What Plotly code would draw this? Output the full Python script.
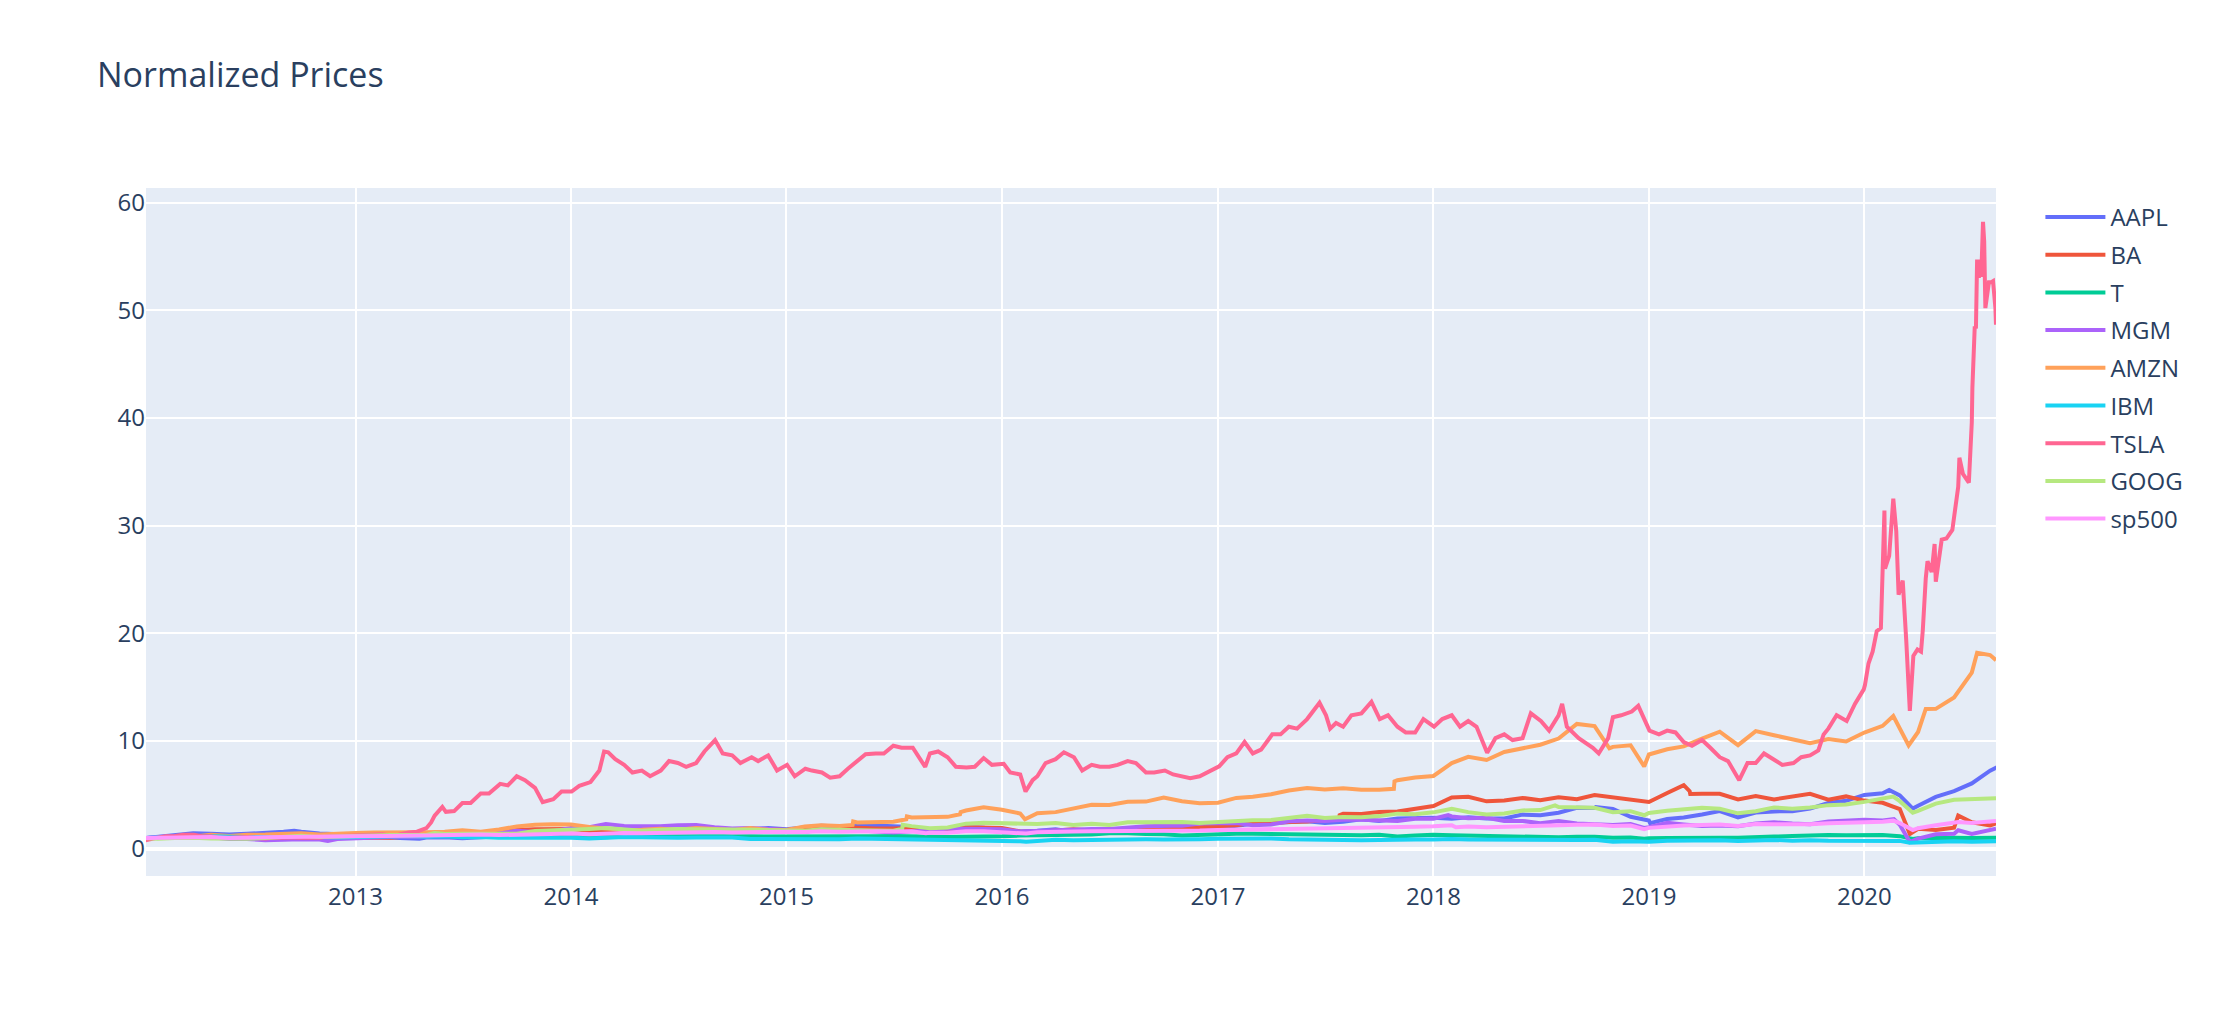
import pandas as pd
import plotly.graph_objects as go

# ---------------- data (normalized prices) ----------------
MONTHS = (["2012-01-12"]
          + [d.strftime("%Y-%m-%d") for d in pd.date_range("2012-02-01", "2020-08-01", freq="MS")]
          + ["2020-08-11"])

AAPL_M = [1.00, 1.09, 1.30, 1.43, 1.39, 1.33, 1.39, 1.44, 1.58, 1.57, 1.42, 1.39,
          1.31, 1.08, 1.02, 1.02, 1.05, 1.07, 0.97, 1.09, 1.16, 1.16, 1.24, 1.32,
          1.32, 1.19, 1.25, 1.29, 1.41, 1.53, 1.56, 1.60, 1.71, 1.65, 1.80, 1.92,
          1.82, 1.97, 2.13, 2.07, 2.13, 2.17, 2.10, 2.02, 1.78, 1.82, 2.00, 1.95,
          1.75, 1.60, 1.67, 1.82, 1.55, 1.63, 1.58, 1.77, 1.78, 1.88, 1.85, 1.82,
          1.93, 2.13, 2.32, 2.40, 2.45, 2.55, 2.40, 2.50, 2.73, 2.57, 2.80, 2.85,
          2.87, 2.78, 2.92, 2.80, 2.82, 3.17, 3.12, 3.35, 3.80, 3.79, 3.70, 2.97,
          2.62, 2.77, 2.90, 3.18, 3.50, 2.92, 3.37, 3.47, 3.48, 3.73, 4.25, 4.45,
          5.00, 5.15, 4.95, 4.00, 4.82, 5.35, 6.07, 7.25,
          7.35]
AAPL_X = [("2012-09-19", 1.67), ("2013-04-19", 0.93), ("2018-10-03", 3.88),
          ("2019-01-03", 2.37), ("2020-02-12", 5.45), ("2020-03-23", 3.73),
          ("2020-08-10", 7.50)]

BA_M = [1.00, 0.99, 1.01, 0.99, 1.03, 0.93, 0.99, 0.99, 0.95, 0.94, 0.94, 0.99,
        1.01, 0.99, 1.03, 1.15, 1.22, 1.33, 1.41, 1.40, 1.57, 1.74, 1.80, 1.83,
        1.84, 1.68, 1.73, 1.69, 1.73, 1.81, 1.70, 1.61, 1.70, 1.70, 1.68, 1.80,
        1.74, 1.95, 2.12, 2.01, 1.92, 1.88, 1.87, 1.93, 1.76, 1.76, 1.99, 1.95,
        1.93, 1.61, 1.58, 1.70, 1.81, 1.69, 1.74, 1.80, 1.73, 1.76, 1.91, 2.03,
        2.08, 2.19, 2.42, 2.38, 2.48, 2.52, 2.66, 3.25, 3.22, 3.41, 3.46, 3.72,
        3.96, 4.77, 4.83, 4.40, 4.48, 4.72, 4.50, 4.78, 4.60, 4.99, 4.77, 4.64,
        4.34, 5.18, 5.91, 5.11, 5.10, 4.58, 4.89, 4.58, 4.89, 5.10, 4.56, 4.86,
        4.47, 4.27, 3.69, 1.85, 1.75, 1.95, 2.46, 2.17,
        2.35]
BA_X = [("2017-07-25", 2.82), ("2017-07-26", 3.12), ("2019-03-11", 5.35),
        ("2019-03-12", 5.09), ("2020-03-18", 1.36), ("2020-06-08", 3.09)]

T_M = [1.00, 1.00, 1.02, 1.04, 1.10, 1.14, 1.19, 1.23, 1.22, 1.26, 1.15, 1.13,
       1.15, 1.17, 1.20, 1.23, 1.30, 1.18, 1.19, 1.18, 1.13, 1.13, 1.20, 1.17,
       1.17, 1.10, 1.07, 1.17, 1.18, 1.18, 1.18, 1.18, 1.17, 1.17, 1.17, 1.13,
       1.12, 1.12, 1.15, 1.08, 1.15, 1.15, 1.18, 1.15, 1.08, 1.09, 1.12, 1.12,
       1.15, 1.22, 1.23, 1.30, 1.30, 1.32, 1.43, 1.45, 1.37, 1.35, 1.23, 1.30,
       1.42, 1.40, 1.40, 1.38, 1.30, 1.28, 1.26, 1.30, 1.25, 1.30, 1.13, 1.22,
       1.30, 1.25, 1.22, 1.18, 1.08, 1.08, 1.07, 1.07, 1.12, 1.12, 1.02, 1.05,
       0.97, 1.00, 1.03, 1.05, 1.03, 1.03, 1.12, 1.13, 1.18, 1.27, 1.28, 1.25,
       1.30, 1.27, 1.17, 0.97, 1.02, 1.03, 1.00, 0.98,
       1.02]
T_X = [("2018-12-24", 0.93), ("2020-03-23", 0.90)]

MGM_M = [1.00, 1.10, 1.13, 1.11, 1.07, 0.90, 0.91, 0.79, 0.85, 0.88, 0.86, 0.90,
         0.98, 1.11, 1.10, 1.08, 1.10, 1.31, 1.21, 1.35, 1.47, 1.68, 1.56, 1.63,
         1.93, 2.00, 2.29, 2.12, 2.09, 2.09, 2.18, 2.21, 2.00, 1.87, 1.93, 1.83,
         1.75, 1.55, 1.80, 1.72, 1.72, 1.60, 1.50, 1.62, 1.68, 1.88, 1.88, 1.84,
         1.81, 1.60, 1.68, 1.75, 1.76, 1.84, 1.84, 1.98, 2.09, 2.13, 2.13, 2.34,
         2.38, 2.38, 2.19, 2.25, 2.56, 2.62, 2.57, 2.70, 2.70, 2.66, 2.57, 2.78,
         2.78, 3.00, 2.83, 2.87, 2.58, 2.58, 2.38, 2.58, 2.34, 2.25, 2.21, 2.29,
         2.00, 2.41, 2.25, 2.11, 2.17, 2.09, 2.35, 2.46, 2.34, 2.27, 2.54, 2.58,
         2.70, 2.62, 2.22, 0.94, 1.35, 1.40, 1.38, 1.76,
         1.85]
MGM_X = [("2012-11-15", 0.72), ("2013-12-31", 1.93), ("2018-01-26", 3.12),
         ("2018-12-24", 1.93), ("2020-02-20", 2.75), ("2020-03-18", 0.62),
         ("2020-06-08", 1.72)]

AMZN_M = [1.00, 1.02, 1.02, 1.15, 1.31, 1.18, 1.30, 1.32, 1.41, 1.44, 1.32, 1.43,
          1.46, 1.51, 1.50, 1.51, 1.53, 1.57, 1.71, 1.59, 1.78, 2.07, 2.23, 2.27,
          2.26, 2.03, 1.91, 1.73, 1.77, 1.85, 1.77, 1.93, 1.83, 1.73, 1.92, 1.76,
          1.75, 2.07, 2.19, 2.11, 2.44, 2.47, 2.50, 2.91, 2.90, 2.96, 3.55, 3.84,
          3.62, 3.27, 3.30, 3.40, 3.75, 4.09, 4.06, 4.36, 4.38, 4.76, 4.41, 4.23,
          4.28, 4.72, 4.83, 5.06, 5.40, 5.63, 5.50, 5.61, 5.48, 5.47, 6.37, 6.62,
          6.76, 7.95, 8.53, 8.24, 8.98, 9.32, 9.66, 10.23, 11.59, 11.39, 9.46, 9.61,
          8.75, 9.24, 9.50, 10.23, 10.87, 9.62, 10.92, 10.54, 10.17, 9.80, 10.18, 9.96,
          10.79, 11.41, 11.10, 10.84, 12.99, 14.05, 16.36, 17.98,
          17.51]
AMZN_X = [("2015-04-23", 2.21), ("2015-04-24", 2.53), ("2015-07-23", 2.74),
          ("2015-07-24", 3.01), ("2015-10-22", 3.20), ("2015-10-23", 3.41),
          ("2016-02-09", 2.74), ("2017-10-26", 5.56), ("2017-10-27", 6.25),
          ("2018-10-26", 9.32), ("2018-12-24", 7.64), ("2020-02-19", 12.33),
          ("2020-03-16", 9.60), ("2020-04-14", 12.98), ("2020-07-10", 18.19)]

IBM_M = [1.00, 1.06, 1.10, 1.15, 1.15, 1.07, 1.08, 1.08, 1.08, 1.16, 1.08, 1.05,
         1.09, 1.14, 1.11, 1.18, 1.11, 1.15, 1.07, 1.09, 1.01, 1.02, 1.00, 0.99,
         1.02, 0.95, 1.02, 1.08, 1.07, 1.02, 1.01, 1.05, 1.06, 1.05, 0.91, 0.90,
         0.90, 0.86, 0.89, 0.89, 0.96, 0.94, 0.92, 0.88, 0.81, 0.80, 0.78, 0.76,
         0.75, 0.69, 0.74, 0.84, 0.80, 0.84, 0.84, 0.89, 0.88, 0.87, 0.85, 0.89,
         0.93, 0.97, 1.00, 0.96, 0.88, 0.84, 0.86, 0.80, 0.79, 0.81, 0.86, 0.85,
         0.85, 0.91, 0.85, 0.83, 0.80, 0.78, 0.78, 0.80, 0.81, 0.84, 0.65, 0.69,
         0.64, 0.75, 0.77, 0.79, 0.78, 0.73, 0.77, 0.82, 0.74, 0.80, 0.75, 0.74,
         0.75, 0.80, 0.73, 0.58, 0.69, 0.69, 0.66, 0.69,
         0.70]
IBM_X = [("2016-02-11", 0.65), ("2018-12-24", 0.59), ("2020-03-18", 0.55)]

GOOG_M = [1.00, 0.92, 0.99, 1.03, 0.96, 0.91, 0.92, 1.00, 1.08, 1.21, 1.08, 1.10,
          1.15, 1.23, 1.28, 1.27, 1.27, 1.38, 1.40, 1.41, 1.38, 1.40, 1.64, 1.68,
          1.76, 1.84, 1.92, 1.79, 1.68, 1.76, 1.84, 1.81, 1.83, 1.79, 1.76, 1.70,
          1.67, 1.67, 1.81, 1.72, 1.72, 1.70, 1.67, 2.10, 1.91, 1.97, 2.33, 2.41,
          2.35, 2.38, 2.29, 2.38, 2.21, 2.33, 2.21, 2.45, 2.45, 2.46, 2.48, 2.38,
          2.49, 2.53, 2.65, 2.66, 2.90, 3.07, 2.86, 2.95, 2.92, 3.03, 3.26, 3.21,
          3.38, 3.70, 3.40, 3.18, 3.27, 3.56, 3.59, 3.88, 3.81, 3.80, 3.40, 3.49,
          3.32, 3.53, 3.65, 3.80, 3.72, 3.29, 3.49, 3.84, 3.72, 3.83, 4.05, 4.10,
          4.35, 4.72, 4.42, 3.51, 4.19, 4.54, 4.57, 4.69,
          4.70]
GOOG_X = [("2013-05-15", 1.45), ("2015-07-16", 1.85), ("2015-07-17", 2.22),
          ("2018-07-26", 4.03), ("2018-12-24", 3.11), ("2020-02-19", 4.85),
          ("2020-03-23", 3.35)]

SP500_M = [1.00, 1.02, 1.06, 1.10, 1.08, 0.99, 1.05, 1.06, 1.08, 1.11, 1.10, 1.09,
           1.13, 1.17, 1.17, 1.21, 1.22, 1.27, 1.25, 1.32, 1.27, 1.31, 1.36, 1.39,
           1.41, 1.34, 1.42, 1.46, 1.45, 1.49, 1.52, 1.49, 1.55, 1.50, 1.56, 1.59,
           1.59, 1.56, 1.63, 1.59, 1.63, 1.63, 1.60, 1.62, 1.48, 1.48, 1.62, 1.62,
           1.55, 1.50, 1.53, 1.60, 1.61, 1.62, 1.62, 1.68, 1.68, 1.67, 1.63, 1.69,
           1.74, 1.76, 1.85, 1.82, 1.84, 1.88, 1.87, 1.91, 1.91, 1.95, 1.99, 2.04,
           2.08, 2.18, 2.07, 1.99, 2.05, 2.11, 2.10, 2.17, 2.24, 2.26, 2.12, 2.15,
           1.94, 2.09, 2.16, 2.21, 2.26, 2.12, 2.29, 2.28, 2.24, 2.27, 2.37, 2.40,
           2.51, 2.51, 2.39, 1.91, 2.19, 2.36, 2.40, 2.54,
           2.57]
SP500_X = [("2015-08-25", 1.44), ("2016-02-11", 1.41), ("2018-01-26", 2.22),
           ("2018-02-08", 1.99), ("2018-12-24", 1.81), ("2020-02-19", 2.61),
           ("2020-03-23", 1.73), ("2020-06-08", 2.49)]

TSLA_POINTS = [
    ("2012-01-12", 1.00), ("2012-01-13", 0.81), ("2012-02-01", 1.03), ("2012-02-15", 1.17),
    ("2012-03-01", 1.19), ("2012-03-15", 1.31), ("2012-04-02", 1.31), ("2012-04-16", 1.17),
    ("2012-05-01", 1.17), ("2012-05-15", 0.99), ("2012-06-01", 1.03), ("2012-06-15", 1.06),
    ("2012-07-02", 1.10), ("2012-07-16", 0.99), ("2012-08-01", 0.96), ("2012-08-15", 1.03),
    ("2012-09-04", 0.99), ("2012-09-17", 1.04), ("2012-10-01", 1.03), ("2012-10-15", 0.99),
    ("2012-11-01", 1.03), ("2012-11-15", 1.13), ("2012-12-03", 1.20), ("2012-12-17", 1.20),
    ("2013-01-02", 1.24), ("2013-01-15", 1.27), ("2013-02-01", 1.35), ("2013-02-15", 1.35),
    ("2013-03-01", 1.24), ("2013-03-15", 1.31), ("2013-04-01", 1.52), ("2013-04-15", 1.59),
    ("2013-05-01", 1.91), ("2013-05-09", 2.44), ("2013-05-15", 3.08), ("2013-05-28", 3.89),
    ("2013-06-03", 3.43), ("2013-06-17", 3.50), ("2013-07-01", 4.25), ("2013-07-15", 4.25),
    ("2013-08-01", 5.13), ("2013-08-15", 5.13), ("2013-09-03", 6.02), ("2013-09-16", 5.88),
    ("2013-10-01", 6.73), ("2013-10-15", 6.37), ("2013-11-01", 5.66), ("2013-11-14", 4.32),
    ("2013-12-02", 4.60), ("2013-12-16", 5.31), ("2014-01-02", 5.31), ("2014-01-15", 5.84),
    ("2014-02-03", 6.19), ("2014-02-18", 7.26), ("2014-02-26", 9.03), ("2014-03-05", 8.96),
    ("2014-03-17", 8.32), ("2014-04-01", 7.79), ("2014-04-15", 7.08), ("2014-05-01", 7.26),
    ("2014-05-15", 6.73), ("2014-06-02", 7.26), ("2014-06-16", 8.14), ("2014-07-01", 7.96),
    ("2014-07-15", 7.61), ("2014-08-01", 7.96), ("2014-08-15", 9.03), ("2014-09-02", 10.09),
    ("2014-09-15", 8.85), ("2014-10-01", 8.67), ("2014-10-15", 7.96), ("2014-11-03", 8.50),
    ("2014-11-14", 8.14), ("2014-12-01", 8.67), ("2014-12-16", 7.26), ("2015-01-02", 7.79),
    ("2015-01-15", 6.73), ("2015-02-02", 7.43), ("2015-02-13", 7.26), ("2015-03-02", 7.08),
    ("2015-03-16", 6.60), ("2015-04-01", 6.73), ("2015-04-15", 7.43), ("2015-05-01", 8.14),
    ("2015-05-15", 8.78), ("2015-06-01", 8.85), ("2015-06-15", 8.85), ("2015-07-01", 9.56),
    ("2015-07-15", 9.38), ("2015-08-03", 9.38), ("2015-08-14", 8.50), ("2015-08-24", 7.60),
    ("2015-09-01", 8.85), ("2015-09-15", 9.03), ("2015-10-01", 8.50), ("2015-10-15", 7.61),
    ("2015-11-02", 7.54), ("2015-11-16", 7.61), ("2015-12-01", 8.42), ("2015-12-15", 7.79),
    ("2016-01-04", 7.89), ("2016-01-15", 7.08), ("2016-02-01", 6.90), ("2016-02-10", 5.31),
    ("2016-02-22", 6.37), ("2016-03-01", 6.73), ("2016-03-15", 7.96), ("2016-04-01", 8.32),
    ("2016-04-15", 8.96), ("2016-05-02", 8.50), ("2016-05-16", 7.26), ("2016-06-01", 7.79),
    ("2016-06-15", 7.61), ("2016-07-01", 7.61), ("2016-07-15", 7.79), ("2016-08-01", 8.14),
    ("2016-08-15", 7.96), ("2016-09-01", 7.08), ("2016-09-15", 7.08), ("2016-10-03", 7.26),
    ("2016-10-17", 6.90), ("2016-11-01", 6.73), ("2016-11-15", 6.55), ("2016-12-01", 6.73),
    ("2016-12-15", 7.08), ("2017-01-03", 7.65), ("2017-01-17", 8.50), ("2017-02-01", 8.85),
    ("2017-02-15", 9.91), ("2017-03-01", 8.85), ("2017-03-15", 9.20), ("2017-04-03", 10.62),
    ("2017-04-17", 10.62), ("2017-05-01", 11.33), ("2017-05-15", 11.15), ("2017-06-01", 12.04),
    ("2017-06-22", 13.56), ("2017-07-03", 12.39), ("2017-07-10", 11.15), ("2017-07-20", 11.68),
    ("2017-08-01", 11.33), ("2017-08-15", 12.39), ("2017-09-01", 12.57), ("2017-09-18", 13.63),
    ("2017-10-02", 12.04), ("2017-10-16", 12.39), ("2017-11-01", 11.33), ("2017-11-15", 10.80),
    ("2017-12-01", 10.80), ("2017-12-15", 12.04), ("2018-01-02", 11.33), ("2018-01-16", 12.04),
    ("2018-02-01", 12.39), ("2018-02-15", 11.33), ("2018-03-01", 11.86), ("2018-03-15", 11.33),
    ("2018-04-02", 8.92), ("2018-04-16", 10.27), ("2018-05-01", 10.62), ("2018-05-15", 10.09),
    ("2018-06-01", 10.27), ("2018-06-15", 12.57), ("2018-07-02", 11.86), ("2018-07-16", 10.97),
    ("2018-08-01", 12.39), ("2018-08-07", 13.45), ("2018-08-15", 11.33), ("2018-09-04", 10.27),
    ("2018-09-28", 9.38), ("2018-10-08", 8.85), ("2018-10-24", 10.27), ("2018-11-01", 12.21),
    ("2018-11-15", 12.39), ("2018-12-03", 12.74), ("2018-12-14", 13.27), ("2019-01-02", 10.97),
    ("2019-01-18", 10.62), ("2019-02-01", 10.97), ("2019-02-15", 10.80), ("2019-03-01", 9.91),
    ("2019-03-15", 9.56), ("2019-04-01", 10.09), ("2019-04-15", 9.38), ("2019-05-01", 8.50),
    ("2019-05-15", 8.14), ("2019-06-03", 6.37), ("2019-06-17", 7.96), ("2019-07-01", 7.96),
    ("2019-07-15", 8.85), ("2019-08-01", 8.32), ("2019-08-15", 7.79), ("2019-09-03", 7.96),
    ("2019-09-16", 8.50), ("2019-10-01", 8.67), ("2019-10-15", 9.13), ("2019-10-24", 10.62),
    ("2019-11-01", 11.15), ("2019-11-15", 12.39), ("2019-12-02", 11.86), ("2019-12-16", 13.45),
    ("2019-12-31", 14.80), ("2020-01-02", 15.20), ("2020-01-08", 17.20), ("2020-01-15", 18.30),
    ("2020-01-22", 20.20), ("2020-01-29", 20.50), ("2020-02-03", 27.60), ("2020-02-04", 31.40),
    ("2020-02-05", 26.00), ("2020-02-12", 27.20), ("2020-02-19", 32.50), ("2020-02-24", 29.50),
    ("2020-02-28", 23.60), ("2020-03-06", 24.90), ("2020-03-12", 19.30), ("2020-03-18", 12.80),
    ("2020-03-24", 17.90), ("2020-03-31", 18.50), ("2020-04-06", 18.30), ("2020-04-09", 20.30),
    ("2020-04-14", 25.10), ("2020-04-17", 26.70), ("2020-04-24", 25.70), ("2020-04-29", 28.30),
    ("2020-05-01", 24.80), ("2020-05-11", 28.70), ("2020-05-19", 28.80), ("2020-05-29", 29.60),
    ("2020-06-08", 33.60), ("2020-06-10", 36.30), ("2020-06-16", 34.80), ("2020-06-26", 34.00),
    ("2020-07-01", 39.60), ("2020-07-02", 42.80), ("2020-07-06", 48.50), ("2020-07-08", 48.30),
    ("2020-07-10", 54.70), ("2020-07-13", 53.00), ("2020-07-15", 54.70), ("2020-07-17", 53.10),
    ("2020-07-20", 58.20), ("2020-07-22", 56.40), ("2020-07-24", 50.20), ("2020-07-28", 52.20),
    ("2020-07-30", 52.60), ("2020-08-03", 52.60), ("2020-08-06", 52.70), ("2020-08-10", 50.20),
    ("2020-08-11", 48.65),
]

SERIES = ["AAPL", "BA", "T", "MGM", "AMZN", "IBM", "TSLA", "GOOG", "sp500"]
COLORS = ["#636efa", "#EF553B", "#00cc96", "#ab63fa", "#FFA15A",
          "#19d3f3", "#FF6692", "#B6E880", "#FF97FF"]


def merged(monthly, extra):
    assert len(monthly) == len(MONTHS)
    pts = sorted(list(zip(MONTHS, monthly)) + list(extra))
    return [p[0] for p in pts], [p[1] for p in pts]


DATA = {
    "AAPL": merged(AAPL_M, AAPL_X),
    "BA": merged(BA_M, BA_X),
    "T": merged(T_M, T_X),
    "MGM": merged(MGM_M, MGM_X),
    "AMZN": merged(AMZN_M, AMZN_X),
    "IBM": merged(IBM_M, IBM_X),
    "TSLA": ([p[0] for p in TSLA_POINTS], [p[1] for p in TSLA_POINTS]),
    "GOOG": merged(GOOG_M, GOOG_X),
    "sp500": merged(SP500_M, SP500_X),
}

# ---------------- figure ----------------
# the page body has an 8px margin, so the figure is sized/offset to compensate
FIG_W, FIG_H = 2200, 1004

fig = go.Figure()
for name, color in zip(SERIES, COLORS):
    xs, ys = DATA[name]
    fig.add_trace(go.Scatter(x=xs, y=ys, mode="lines", name=name,
                             legendgroup=name,
                             line=dict(color=color, width=4)))

fig.update_layout(
    template="plotly",
    width=FIG_W, height=FIG_H,
    font=dict(family='"Open Sans", verdana, arial, sans-serif', size=24, color="#2a3f5f"),
    title=dict(text="Normalized Prices", font=dict(size=34),
               x=89 / FIG_W, xanchor="left", y=1 - 67 / FIG_H, yanchor="middle"),
    margin=dict(l=138, r=212, t=180, b=136),
    legend=dict(tracegroupgap=3.5, itemwidth=60, font=dict(size=24),
                x=1.024, xanchor="left", y=0.99, yanchor="top"),
    xaxis=dict(gridwidth=2, range=["2012-01-12", "2020-08-11"], ticklabelstandoff=4),
    yaxis=dict(range=[-2.53, 61.35], dtick=10, gridwidth=2, zerolinewidth=4),
)

fig.write_html("out.html")
